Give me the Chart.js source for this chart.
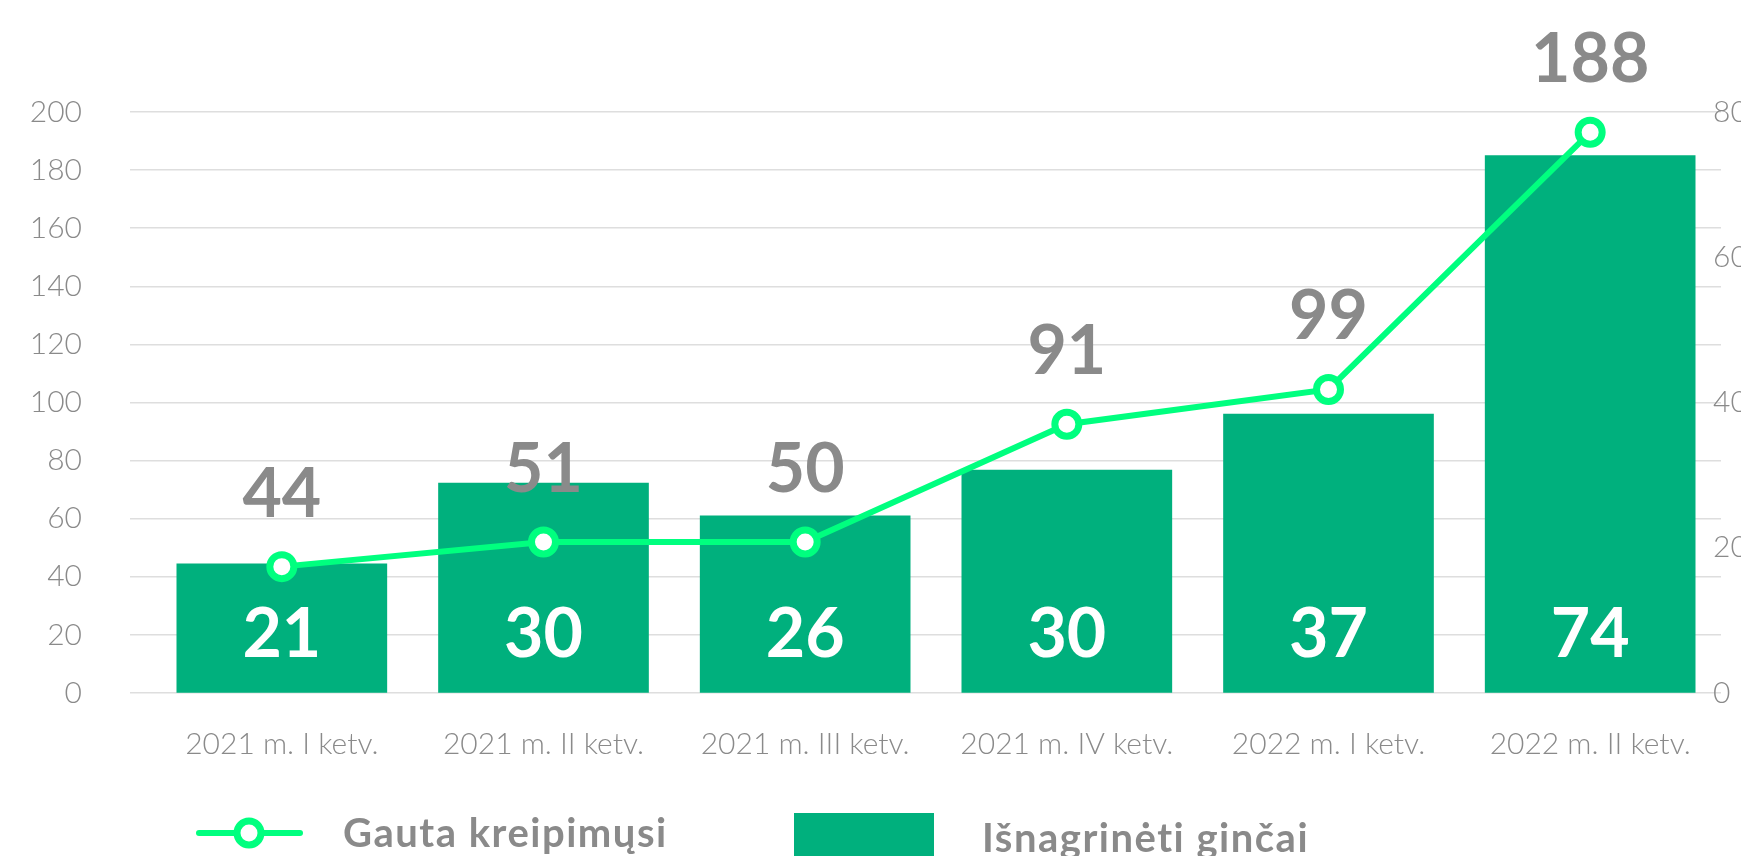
<!DOCTYPE html>
<html lang="lt">
<head>
<meta charset="utf-8">
<title>Gauta kreipimųsi ir išnagrinėti ginčai</title>
<script src="https://cdn.jsdelivr.net/npm/chart.js@4.4.1/dist/chart.umd.min.js"></script>
<style>
  html, body { margin: 0; padding: 0; background: #ffffff; overflow: hidden; }
  #wrap { position: relative; width: 1741px; height: 856px; }
</style>
</head>
<body>
<div id="wrap"><canvas id="disputesChart"></canvas></div>
<script>
// ---------------------------------------------------------------------------
// Data
// ---------------------------------------------------------------------------
const quarters = ['2021 m. I ketv.', '2021 m. II ketv.', '2021 m. III ketv.',
  '2021 m. IV ketv.', '2022 m. I ketv.', '2022 m. II ketv.'];

// Line (left axis 0-200)
const receivedValues = [43.5, 52, 52, 92.5, 104.5, 193];
const receivedLabels = ['44', '51', '50', '91', '99', '188'];

// Bars (right axis 0-80)
const resolvedValues = [17.8, 28.9, 24.4, 30.7, 38.4, 74.0];
const resolvedLabels = ['21', '30', '26', '30', '37', '74'];

const leftTicks = [0, 20, 40, 60, 80, 100, 120, 140, 160, 180, 200];
const rightTicks = [0, 20, 40, 60, 80];

const legendLine = 'Gauta kreipimųsi';
const legendBar = 'Išnagrinėti ginčai';

// Colours / fonts
const BAR_GREEN = '#00b07d';
const LINE_GREEN = '#00ff7f';
const GREY = '#8a8a8a';
const GRID = '#dedede';
const FONT = 'Lato, "Open Sans", "DejaVu Sans", sans-serif';

/**
 * Value labels above the line points / inside the bars, plus the
 * right-hand axis labels (drawn here so they are not clipped to the
 * narrow right scale box)
 */
const valueLabels = {
  id: 'valueLabels',
  afterDatasetsDraw(chart) {
    const ctx = chart.ctx;
    const x = chart.scales.x;
    const y = chart.scales.y;
    const y1 = chart.scales.y1;
    ctx.save();
    ctx.textAlign = 'center';
    ctx.textBaseline = 'middle';
    ctx.font = '700 68px ' + FONT;

    // grey numbers above line points
    ctx.fillStyle = GREY;
    receivedValues.forEach((v, i) => {
      ctx.fillText(receivedLabels[i], x.getPixelForValue(i), y.getPixelForValue(v) - 72);
    });

    // white numbers near the bottom of the bars
    ctx.fillStyle = '#ffffff';
    resolvedValues.forEach((v, i) => {
      ctx.fillText(resolvedLabels[i], x.getPixelForValue(i), y1.getPixelForValue(0) - 58);
    });

    // right axis tick labels
    ctx.font = '300 30px ' + FONT;
    ctx.textAlign = 'left';
    ctx.fillStyle = GREY;
    rightTicks.forEach(v => {
      ctx.fillText(String(v), chart.chartArea.right - 8, y1.getPixelForValue(v));
    });
    ctx.restore();
  }
};

/**
 * Legend at the bottom, partly cut by the canvas edge like the original
 */
const bottomLegend = {
  id: 'bottomLegend',
  afterDraw(chart) {
    const ctx = chart.ctx;
    ctx.save();

    // line + point symbol
    ctx.strokeStyle = LINE_GREEN;
    ctx.lineWidth = 6;
    ctx.lineCap = 'round';
    ctx.beginPath();
    ctx.moveTo(199, 833);
    ctx.lineTo(300, 833);
    ctx.stroke();
    ctx.beginPath();
    ctx.arc(249, 833, 12, 0, Math.PI * 2);
    ctx.fillStyle = '#ffffff';
    ctx.fill();
    ctx.lineWidth = 7;
    ctx.stroke();

    ctx.fillStyle = GREY;
    ctx.font = '700 40px ' + FONT;
    ctx.letterSpacing = '1.5px';
    ctx.textAlign = 'left';
    ctx.textBaseline = 'alphabetic';
    ctx.fillText(legendLine, 343, 847);

    // bar symbol
    ctx.fillStyle = BAR_GREEN;
    ctx.fillRect(794, 813, 140, 60);

    ctx.fillStyle = GREY;
    ctx.fillText(legendBar, 982, 852);
    ctx.restore();
  }
};

const ctx = document.getElementById('disputesChart').getContext('2d');

new Chart(ctx, {
  type: 'bar',
  data: {
    labels: quarters,
    datasets: [
      {
        type: 'line',
        label: legendLine,
        data: receivedValues,
        yAxisID: 'y',
        order: 0,
        borderColor: LINE_GREEN,
        borderWidth: 6,
        tension: 0,
        pointRadius: 12,
        pointHoverRadius: 12,
        pointBorderWidth: 7,
        pointBorderColor: LINE_GREEN,
        pointBackgroundColor: '#ffffff',
        fill: false
      },
      {
        type: 'bar',
        label: legendBar,
        data: resolvedValues,
        yAxisID: 'y1',
        order: 1,
        backgroundColor: BAR_GREEN,
        borderWidth: 0,
        barThickness: 210
      }
    ]
  },
  options: {
    responsive: true,
    maintainAspectRatio: false,
    animation: false,
    layout: {
      padding: { top: 112, left: 0, right: 0, bottom: 0 }
    },
    plugins: {
      legend: { display: false },
      tooltip: { enabled: false }
    },
    scales: {
      x: {
        offset: true,
        grid: { display: false, drawTicks: false },
        border: { display: false },
        ticks: {
          color: GREY,
          padding: 33,
          maxRotation: 0,
          autoSkip: false,
          font: { family: FONT, size: 30, weight: '300' }
        },
        afterFit(scale) { scale.height = 163; }
      },
      y: {
        position: 'left',
        min: 0,
        max: 200,
        afterBuildTicks(scale) { scale.ticks = leftTicks.map(v => ({ value: v })); },
        grid: {
          color: GRID,
          lineWidth: 1.5,
          drawTicks: true,
          tickLength: 21
        },
        border: { display: false },
        ticks: {
          color: GREY,
          padding: 48,
          font: { family: FONT, size: 30, weight: '300' }
        },
        afterFit(scale) { scale.width = 151; }
      },
      y1: {
        position: 'right',
        min: 0,
        max: 80,
        grid: { drawOnChartArea: false, drawTicks: false },
        border: { display: false },
        ticks: { display: false },
        afterFit(scale) { scale.width = 20; }
      }
    }
  },
  plugins: [valueLabels, bottomLegend]
});
</script>
</body>
</html>
